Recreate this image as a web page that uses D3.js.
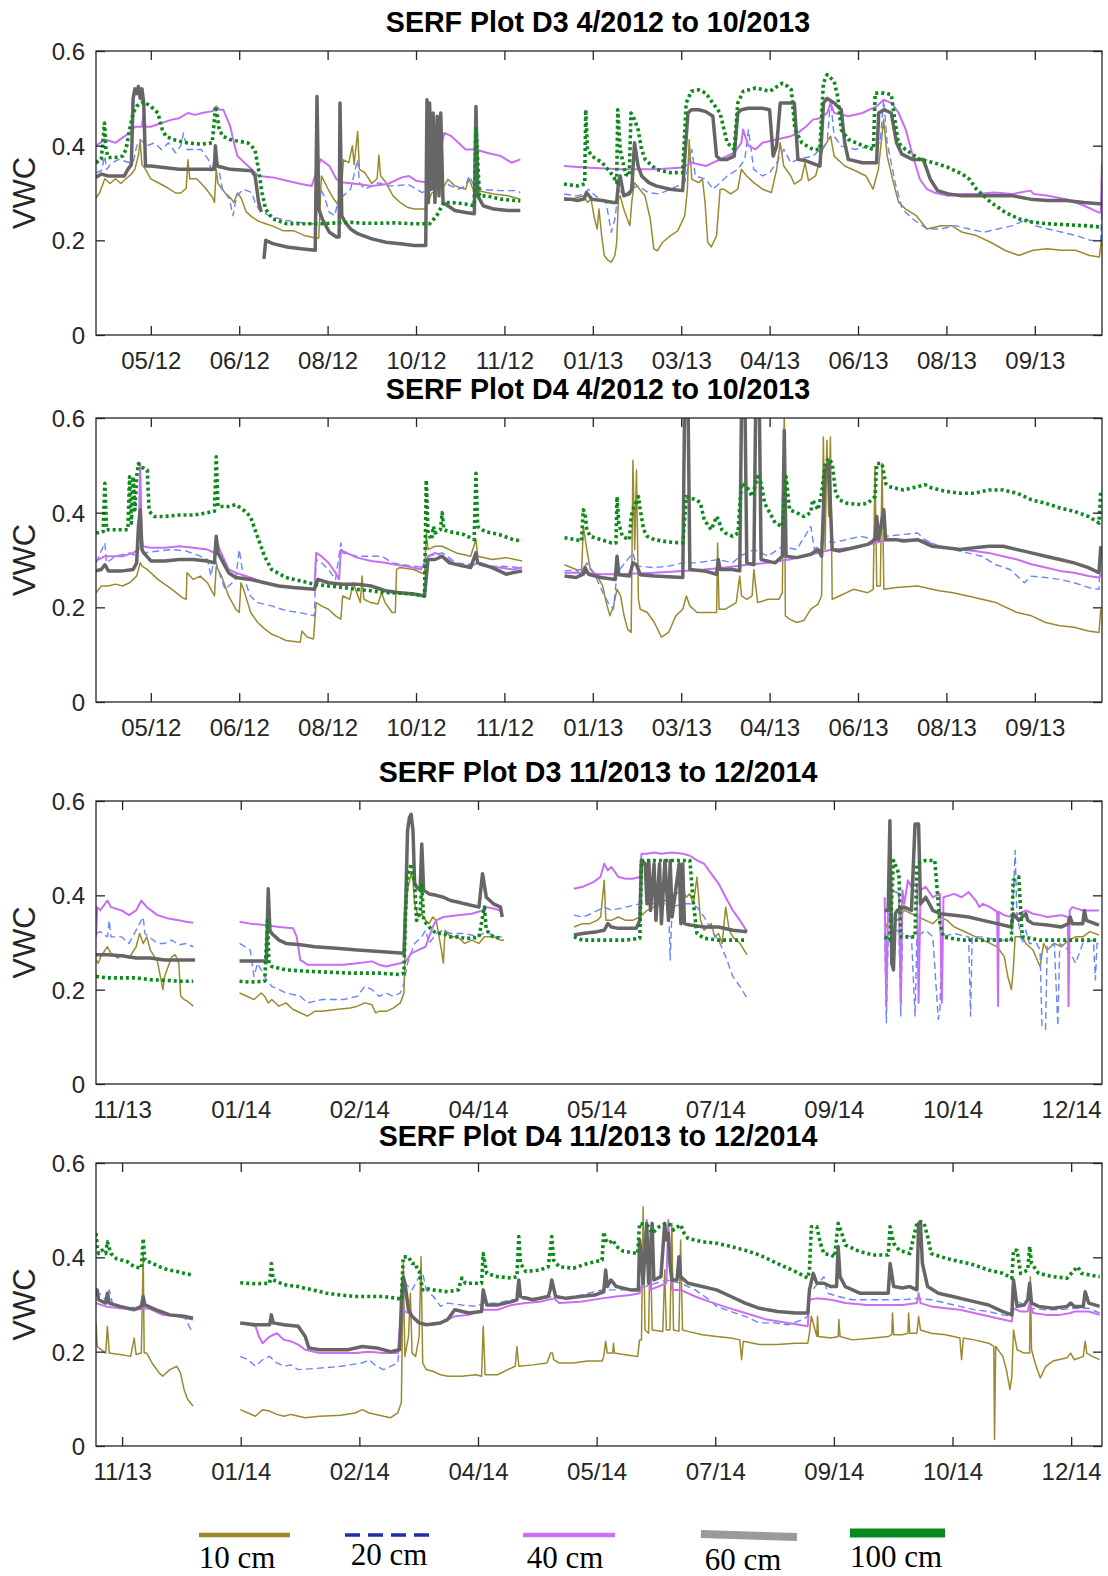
<!DOCTYPE html>
<html>
<head>
<meta charset="utf-8">
<script src="https://cdn.jsdelivr.net/npm/d3@7"></script>
<style>
body { margin: 0; background: #fff; }
svg { display: block; }
</style>
</head>
<body>
<div id="chart"></div>
<script>
// depth labels (legend)
var depths = ["10 cm", "20 cm", "40 cm", "60 cm", "100 cm"];

// titles
var titles = ["SERF Plot D3 4/2012 to 10/2013", "SERF Plot D4 4/2012 to 10/2013",
              "SERF Plot D3 11/2013 to 12/2014", "SERF Plot D4 11/2013 to 12/2014"];

// x tick dates (labelled mm/yy)
var ticks2012 = ["2012-05-11","2012-06-30","2012-08-19","2012-10-08","2012-11-27","2013-01-16",
                 "2013-03-07","2013-04-26","2013-06-15","2013-08-04","2013-09-23"];
var ticks2013 = ["2013-11-12","2014-01-01","2014-02-20","2014-04-11","2014-05-31","2014-07-20",
                 "2014-09-08","2014-10-28","2014-12-17"];
var yTicks = [0, 0.2, 0.4, 0.6];

// data: [days since start of plot period, VWC]; null = gap in record
// period 1 starts 2012-04-10, period 2 starts 2013-11-01
var d3a_10 = [[0,.29],[2,.30],[5,.33],[8,.32],[11,.33],[14,.32],[17,.33],[20,.34],[22,.35],[24,.38],[25,.41],[26,.36],[28,.35],[31,.33],[36,.32],[41,.31],[45,.30],[48,.30],[51,.31],[52,.37],[53,.33],[57,.33],[62,.31],[66,.29],[67,.28],[68,.35],[69,.32],[73,.30],[76,.29],[78,.28],[80,.30],[82,.29],[85,.26],[88,.25],[92,.24],[96,.235],[100,.23],[106,.22],[112,.22],[118,.21],[124,.205],[126,.205],[127.5,.336],[131,.31],[134,.29],[136,.28],[138,.27],[140,.37],[143,.364],[145,.40],[146,.36],[148,.43],[149,.35],[152,.343],[156,.32],[159,.33],[160,.38],[161,.336],[164,.322],[168,.294],[172,.28],[176,.27],[180,.266],[186,.266],[190,.30],[194,.31],[197,.315],[199,.329],[203,.315],[209,.308],[211,.33],[213,.31],[217,.304],[225,.298],[233,.294],[240,.287],
  null,
  [264.7,.29],[268,.287],[272,.29],[276,.294],[278,.28],[280,.287],[282,.245],[283.5,.224],[284.5,.266],[286,.21],[287.5,.168],[289.5,.158],[291.5,.154],[293.5,.168],[294.5,.196],[295.5,.287],[296.5,.294],[298.5,.266],[300.5,.245],[302,.231],[303,.28],[304.5,.322],[307.5,.308],[310.5,.294],[313.5,.245],[315.5,.182],[317.5,.178],[320.5,.196],[325,.21],[329,.22],[333,.252],[334.5,.308],[335.5,.413],[337,.329],[341,.322],[343,.329],[344.5,.28],[346,.196],[348,.186],[351,.21],[353,.308],[355,.308],[359,.298],[363,.308],[365,.35],[368,.336],[372,.322],[377,.308],[382,.301],[385,.35],[387,.406],[389,.357],[393,.336],[395,.319],[399,.329],[401,.364],[403,.326],[407,.336],[411,.392],[415.5,.42],[417.5,.378],[423.5,.357],[429.5,.347],[435.5,.336],[439.5,.308],[442.5,.35],[445.5,.455],[447.5,.378],[451,.322],[454,.28],[458,.266],[464,.252],[470,.224],[478,.231],[484,.231],[490,.217],[498,.21],[506,.196],[514,.179],[522,.168],[530,.179],[538,.182],[546,.179],[554,.179],[562,.168],[567.5,.165],[569,.21]];
var d3a_20 = [[0,.343],[3,.347],[5,.378],[6,.35],[9,.364],[13,.371],[19,.364],[21,.364],[23,.399],[25,.413],[27,.406],[29,.40],[33,.406],[37,.392],[41,.406],[45,.385],[48,.40],[49.5,.427],[51.5,.392],[55.5,.392],[59.5,.392],[63.5,.371],[65.5,.343],[67.5,.392],[68.5,.371],[71.5,.308],[75.5,.287],[77.5,.252],[79.5,.294],[83.5,.308],[88,.301],[90,.28],[92,.266],[96,.256],[100,.249],[108,.242],[120,.235],[124,.235],[127,.308],[129,.294],[132,.259],[135,.252],[138,.30],[140,.294],[144,.308],[148,.371],[149,.322],[152,.308],[156,.315],[160,.322],[164.5,.315],[168.5,.315],[176.5,.318],[184.5,.301],[196.5,.322],[205,.308],[209,.315],[211,.336],[215,.308],[229,.305],[237,.305],[240,.301],
  null,
  [264.7,.298],[272,.294],[276.5,.298],[278.5,.308],[282.5,.294],[288.5,.28],[291.5,.217],[293.5,.245],[295.5,.308],[298.5,.294],[302.5,.308],[306.5,.315],[312.5,.301],[318.5,.298],[325,.308],[333,.322],[337,.392],[339,.336],[345,.329],[349,.308],[353,.322],[357,.336],[363,.35],[367,.371],[369,.434],[372,.35],[377,.336],[381,.343],[385,.364],[389,.392],[393,.364],[397,.371],[405.5,.378],[413.5,.406],[415.5,.497],[417.5,.42],[421.5,.399],[429.5,.392],[437.5,.399],[443.5,.406],[445.5,.497],[447.5,.406],[452,.322],[456,.266],[462,.245],[470,.224],[478,.224],[486,.231],[494,.224],[502,.217],[510,.224],[518.5,.231],[526.5,.245],[530.5,.231],[538.5,.224],[546.5,.217],[554.5,.21],[562.5,.20],[568.3,.20],[569,.28]];
var d3a_40 = [[0,.40],[5,.413],[11,.406],[15,.417],[19,.427],[22,.44],[26,.44],[27,.476],[28,.44],[31,.44],[37,.448],[43,.455],[47,.458],[52,.469],[56,.465],[60,.469],[66,.473],[68,.483],[70,.476],[72,.476],[76,.44],[78,.406],[80,.378],[84,.364],[88,.35],[92,.336],[100,.333],[108,.326],[116,.319],[122,.315],[127,.371],[132,.357],[136,.329],[140,.322],[148,.319],[156,.315],[165,.319],[173,.333],[177,.336],[181,.326],[187,.322],[191,.322],[197,.427],[201,.42],[205,.406],[209,.392],[215,.392],[221,.385],[229,.378],[235,.364],[240,.371],
  null,
  [264.7,.357],[276.5,.354],[296.5,.35],[316.5,.35],[332,.354],[337,.364],[345,.357],[353,.371],[361,.385],[365,.406],[366,.434],[369,.40],[373,.392],[377,.406],[385,.413],[393,.42],[397,.427],[401.5,.44],[405.5,.455],[409.5,.458],[413.5,.469],[415.5,.49],[417.5,.469],[425.5,.462],[433.5,.469],[437.5,.476],[441.5,.483],[445.5,.497],[450,.49],[454,.469],[458,.434],[462,.378],[466,.329],[470,.308],[474,.301],[482,.294],[490,.298],[498,.298],[508,.301],[518.5,.298],[528.5,.305],[530.5,.298],[538.5,.294],[548.5,.287],[559,.273],[567,.259],[568.3,.259],[569,.364]];
var d3a_60 = [[0,.333],[3,.34],[7,.336],[13,.336],[16,.336],[18,.35],[20,.36],[21,.50],[22,.52],[23,.51],[24,.525],[25,.50],[26,.52],[27,.49],[28,.357],[31,.357],[47,.35],[63,.35],[67,.35],[67.5,.40],[68.5,.357],[76,.35],[88,.347],[90,.336],[92,.28],[93.5,.26],
  null,
  [95,.161],[96,.20],[100,.193],[108,.186],[116,.182],[124,.179],[125,.504],[126,.266],[128,.245],[132,.217],[136,.207],[137.5,.207],[138,.49],[139,.252],[141,.238],[144,.224],[148,.214],[156,.203],[164,.196],[172,.193],[180,.189],[186.5,.189],[187.2,.497],[188,.28],[188.7,.49],[189.7,.308],[190.7,.469],[191.7,.28],[193,.462],[194,.294],[195,.469],[196.3,.28],[199,.273],[203,.263],[209,.259],[214,.256],[214.9,.483],[216,.294],[219,.273],[225,.266],[233,.263],[240,.263],
  null,
  [264.7,.287],[268.3,.287],[272.3,.284],[276,.287],[277.4,.301],[280.4,.287],[286.4,.284],[292.5,.28],[294.5,.28],[295.5,.322],[296.5,.336],[298.5,.294],[301.6,.298],[303,.308],[304.6,.406],[306.6,.357],[308.6,.336],[312.7,.322],[316.7,.315],[324.8,.308],[331.8,.305],[333.5,.40],[334.8,.469],[336.8,.476],[340.9,.476],[344.9,.472],[348.9,.462],[351,.378],[353,.371],[357,.371],[361,.378],[363,.469],[365,.476],[369,.479],[377,.479],[381,.476],[383,.378],[385,.40],[387,.49],[395,.49],[397,.371],[401.5,.368],[409.5,.357],[411.5,.49],[413.5,.50],[417.5,.49],[421.5,.476],[423.5,.406],[425.5,.371],[433.5,.364],[441.5,.364],[442.7,.469],[445.7,.476],[449.8,.469],[452.8,.406],[455.8,.382],[461.8,.371],[467.9,.371],[471.9,.329],[476,.305],[482,.298],[490,.294],[498,.294],[518.5,.294],[528.5,.287],[538.5,.284],[548.7,.284],[558.8,.28],[569,.277]];
var d3a_100 = [[0,.364],[3,.371],[4.8,.448],[5.6,.392],[7,.375],[11,.375],[15,.378],[17,.392],[19,.434],[21,.469],[23,.483],[25,.49],[27,.493],[31,.483],[35,.469],[37.5,.434],[39.5,.42],[43.5,.413],[51.6,.406],[59.6,.403],[65.7,.406],[67.7,.483],[69.7,.434],[71.7,.42],[75.8,.413],[79.8,.41],[85.8,.406],[89.9,.392],[91.9,.35],[93.9,.301],[95.9,.266],[100,.245],[108,.235],[120,.235],[128,.235],[136,.237],[144,.238],[152,.236],[160,.236],[168,.237],[180,.235],[188.7,.235],[192.7,.252],[196.7,.28],[200.8,.28],[208.8,.277],[213.9,.273],[214.9,.441],[216.9,.294],[220.9,.294],[229,.287],[240,.283],
  null,
  [264.7,.319],[272.3,.315],[276.4,.319],[277,.476],[278,.392],[280.4,.378],[286.4,.364],[292.5,.336],[294.5,.322],[295.1,.476],[296.5,.392],[299.5,.34],[301.6,.336],[302.6,.469],[304.6,.455],[306.6,.434],[308.6,.392],[310.6,.371],[316.7,.35],[324.8,.343],[331.8,.343],[333.8,.49],[336.8,.515],[340.9,.518],[344.9,.511],[348.9,.49],[353,.469],[357,.406],[361,.392],[363,.49],[366.1,.515],[373.1,.522],[381.2,.515],[385.2,.525],[388.2,.532],[391.3,.525],[393.3,.518],[395.3,.434],[399.3,.406],[405.4,.392],[409.4,.392],[411.4,.532],[413.5,.55],[417.5,.536],[419.5,.504],[421.5,.434],[425.6,.413],[433.6,.40],[439.7,.392],[440.7,.511],[445.7,.511],[449.8,.508],[451.8,.455],[453.8,.406],[457.8,.392],[465.9,.371],[473.9,.364],[482,.354],[490,.34],[494,.329],[498,.308],[506.2,.28],[514.3,.259],[522.3,.245],[530.4,.238],[538.5,.235],[548.7,.233],[558.8,.231],[569,.228]];

var d4a_10 = [[0,.231],[3,.245],[7,.245],[11,.249],[15,.245],[19,.252],[23,.266],[25,.294],[26,.287],[29,.28],[35,.259],[43,.238],[49,.22],[51,.217],[51.5,.273],[55,.259],[59,.266],[63,.252],[67,.224],[68,.287],[71,.266],[75,.224],[79,.196],[81,.189],[82,.252],[83.5,.238],[87.5,.189],[91.5,.168],[95.5,.154],[99.5,.143],[103.5,.137],[107.5,.13],[115.5,.126],[116.5,.15],[119.5,.137],[123,.133],[124.5,.21],[127.5,.203],[131.5,.196],[135.5,.182],[138.5,.175],[139.5,.224],[143.5,.217],[145.5,.252],[147.5,.231],[149.5,.21],[150.5,.266],[151.5,.217],[155.5,.21],[159.5,.207],[161.5,.231],[163.5,.21],[167.5,.189],[169.3,.189],[170,.28],[171.7,.284],[179.7,.28],[185.8,.27],[186.8,.357],[187.8,.322],[191.8,.329],[195.8,.329],[203.8,.315],[211.9,.308],[214.9,.343],[215.9,.308],[224,.301],[232,.305],[241,.298],
  null,
  [265,.29],[271.5,.28],[274.6,.266],[275.6,.371],[277.6,.322],[279.6,.28],[283.6,.266],[286.6,.245],[288.6,.21],[290.7,.182],[292.7,.203],[294.7,.238],[296.7,.224],[298.7,.182],[300.7,.154],[302.7,.147],[303.7,.511],[304.7,.322],[305.7,.49],[306.8,.217],[307.8,.196],[311.8,.189],[315.8,.168],[319.8,.137],[323.9,.147],[327.9,.182],[331.9,.196],[333.9,.224],[335.9,.203],[339.9,.189],[351,.189],[351.6,.336],[352.4,.196],[356,.196],[362.1,.21],[364.1,.266],[365.1,.224],[368.1,.217],[371.1,.224],[372.1,.28],[374.2,.21],[380.2,.217],[386.2,.217],[388.2,.231],[389.3,.62],[389.9,.182],[392.3,.175],[396.3,.168],[400.3,.172],[404.3,.196],[408.4,.207],[410.4,.224],[411.4,.56],[412.4,.322],[413.4,.553],[414.4,.392],[415.4,.56],[416.4,.217],[420.4,.224],[428.5,.238],[436.5,.231],[439.6,.238],[440.6,.497],[441.6,.245],[443.6,.245],[444.6,.504],[445.6,.238],[452.6,.242],[464.7,.245],[476.8,.235],[484.8,.231],[496.9,.221],[509,.21],[521,.189],[529.1,.182],[537.1,.168],[545.2,.161],[553.2,.158],[561.3,.15],[567.3,.147],[568.3,.196]];
var d4a_20 = [[0,.294],[5,.336],[6,.294],[11,.308],[19,.315],[23,.308],[26,.35],[27,.315],[35,.319],[43,.322],[51,.319],[59,.308],[63,.301],[65,.266],[67,.308],[69,.28],[73,.238],[79,.259],[81,.322],[83.3,.266],[87.3,.224],[91.3,.21],[99.3,.203],[107.4,.193],[115.4,.189],[123.5,.182],[124.5,.301],[127.5,.294],[131.5,.28],[135.5,.259],[138.5,.336],[139.5,.315],[147.6,.308],[155.6,.308],[161.7,.308],[167.7,.294],[171.7,.291],[179.7,.287],[185.8,.284],[187.8,.308],[195.8,.315],[203.8,.294],[211.9,.291],[219.9,.287],[228,.287],[241,.284],
  null,
  [265,.277],[275.6,.28],[277.6,.294],[281.6,.273],[287.6,.224],[289.7,.21],[292.7,.196],[294.7,.273],[303.7,.315],[305.7,.287],[315.8,.284],[323.9,.287],[331.9,.294],[339.9,.294],[352,.301],[360.1,.294],[364.1,.308],[372.1,.322],[380.2,.308],[388.2,.329],[396.3,.322],[404.3,.371],[406.3,.322],[412.4,.343],[416.4,.336],[424.5,.343],[432.5,.35],[440.6,.343],[444.6,.392],[446.6,.35],[456.7,.354],[464.7,.357],[468.8,.343],[476.8,.329],[484.8,.322],[492.9,.315],[500.9,.308],[509,.29],[517,.28],[525.1,.252],[529.1,.266],[537.1,.263],[545.2,.259],[553.2,.252],[561.3,.242],[567.3,.238],[568.3,.322]];
var d4a_40 = [[0,.298],[5,.308],[7,.308],[15,.308],[21,.315],[24,.322],[25,.504],[26,.329],[31,.326],[39,.326],[47,.329],[55,.326],[63,.322],[67,.315],[68,.343],[70,.322],[75,.28],[79,.273],[87.3,.263],[95.3,.252],[103.4,.245],[115.4,.242],[123.5,.238],[124.5,.315],[127.5,.308],[131.5,.294],[135.5,.273],[137.5,.259],[138.5,.322],[139.5,.319],[147.6,.305],[155.6,.298],[163.7,.294],[169.7,.29],[175.7,.287],[183.8,.28],[186.8,.301],[187.8,.308],[191.8,.315],[195.8,.308],[203.8,.291],[211.9,.287],[215.9,.294],[219.9,.287],[228,.284],[236,.28],[241,.284],
  null,
  [265,.273],[275.6,.273],[285.6,.27],[295.7,.27],[315.8,.273],[331.9,.277],[344,.28],[356,.284],[368.1,.29],[380.2,.294],[392.3,.301],[400.3,.308],[408.4,.315],[416.4,.322],[428.5,.326],[440.6,.336],[448.6,.343],[456.7,.343],[464.7,.343],[468.8,.34],[476.8,.329],[488.8,.322],[496.9,.319],[504.9,.315],[513,.308],[521,.301],[529.1,.291],[537.1,.284],[545.2,.277],[553.2,.273],[561.3,.266],[567.3,.263],[568.5,.27]];
var d4a_60 = [[0,.277],[3,.28],[5,.29],[7,.277],[15,.277],[21,.28],[23,.294],[24,.371],[25,.406],[26,.322],[27,.315],[31,.298],[39,.298],[47,.301],[55,.301],[63,.298],[67,.294],[68,.35],[69,.315],[75,.273],[79,.263],[87.3,.259],[95.3,.252],[103.4,.245],[111.4,.242],[123.5,.238],[125.5,.259],[131.5,.252],[139.5,.249],[147.6,.249],[155.6,.245],[163.7,.235],[171.7,.231],[179.7,.228],[185.8,.224],[187.8,.301],[191.8,.301],[195.8,.308],[199.8,.294],[207.9,.287],[211.9,.284],[214.9,.315],[215.9,.294],[224,.284],[232,.27],[241,.277],
  null,
  [265,.266],[271.5,.263],[275.6,.27],[276.6,.284],[278.6,.27],[285.6,.263],[293.7,.259],[294.7,.308],[295.7,.269],[301.7,.266],[303.7,.294],[305.7,.29],[307.8,.269],[315.8,.266],[331.9,.263],[332.9,.62],[334.9,.62],[335.9,.28],[344,.277],[351,.27],[352,.301],[353,.28],[360.1,.28],[364.1,.277],[365.1,.62],[367.1,.62],[368.1,.294],[372.1,.29],[373.1,.62],[375.2,.62],[376.2,.301],[384.2,.294],[388.2,.308],[389.3,.574],[390.3,.308],[396.3,.305],[404.3,.312],[408.4,.322],[410.4,.308],[412.4,.49],[414.4,.504],[416.4,.322],[420.4,.319],[428.5,.326],[436.5,.333],[440.6,.343],[441.6,.392],[442.6,.343],[445.6,.406],[446.6,.343],[452.6,.343],[456.7,.34],[464.7,.343],[468.8,.336],[472.8,.329],[480.8,.326],[488.8,.322],[496.9,.326],[504.9,.329],[513,.329],[521,.322],[529.1,.315],[537.1,.308],[545.2,.301],[553.2,.294],[561.3,.284],[567.3,.273],[568.3,.329]];
var d4a_100 = [[0,.357],[4,.36],[5,.462],[6,.364],[11,.364],[18,.364],[19,.476],[20,.378],[21,.476],[22,.406],[23,.476],[24,.504],[25,.497],[27,.494],[29,.49],[30,.406],[31,.399],[33,.392],[39,.392],[47,.395],[55,.395],[63,.40],[67,.403],[68,.518],[69,.413],[75,.413],[79,.417],[83.3,.406],[87.3,.392],[91.3,.35],[95.3,.308],[99.3,.28],[107.4,.263],[115.4,.256],[123.5,.249],[131.5,.245],[139.5,.242],[147.6,.238],[155.6,.235],[163.7,.231],[171.7,.23],[179.7,.228],[185.8,.224],[186.8,.469],[187.8,.357],[189.8,.343],[190.8,.371],[191.8,.357],[194.8,.364],[195.8,.40],[196.8,.364],[199.8,.36],[207.9,.354],[213.9,.343],[214.9,.483],[215.9,.371],[219.9,.36],[228,.354],[236,.343],[241,.34],
  null,
  [265,.347],[271.5,.343],[274.6,.34],[275.6,.406],[276.6,.399],[277.6,.364],[279.6,.35],[285.6,.343],[291.7,.336],[294.1,.336],[294.7,.434],[295.7,.378],[297.7,.35],[301.7,.343],[302.7,.392],[303.7,.406],[306.8,.434],[307.8,.406],[309.8,.364],[311.8,.35],[315.8,.343],[323.9,.338],[331.9,.336],[333.9,.434],[335.9,.431],[339.9,.427],[341.9,.42],[344,.385],[348,.364],[351,.392],[352,.385],[354,.364],[356,.357],[360.1,.35],[363.1,.357],[364.1,.413],[365.1,.462],[368.1,.455],[371.1,.434],[374.2,.476],[376.2,.462],[378.2,.42],[380.2,.406],[384.2,.378],[388.2,.371],[390.3,.476],[392.3,.406],[396.3,.40],[400.3,.392],[404.3,.40],[405.3,.427],[408.4,.406],[410.4,.441],[412.4,.504],[414.4,.515],[416.4,.504],[418.4,.441],[420.4,.427],[424.5,.42],[432.5,.417],[436.5,.42],[440.6,.434],[441.6,.504],[444.6,.504],[446.6,.462],[448.6,.455],[456.7,.448],[464.7,.455],[468.8,.459],[472.8,.452],[480.8,.445],[488.8,.441],[496.9,.441],[504.9,.448],[513,.448],[521,.441],[529.1,.427],[537.1,.42],[545.2,.41],[553.2,.403],[561.3,.392],[567.3,.378],[568.3,.448]];

var d3b_10 = [[0,.263],[1,.256],[2,.27],[4.8,.291],[6.3,.277],[9.3,.267],[10.8,.274],[13.9,.267],[16.9,.291],[18.4,.319],[19.9,.298],[21.4,.312],[22.9,.284],[25.9,.26],[28.2,.2],[28.9,.228],[31.9,.27],[33.4,.274],[34.9,.256],[35.7,.186],[37.2,.179],[38.7,.175],[41,.165],
  null,
  [60.5,.193],[63.6,.186],[66.6,.179],[69.6,.193],[71.1,.186],[72.6,.172],[74.1,.179],[77.1,.165],[80.1,.172],[83.1,.158],[86.1,.151],[89.1,.144],[92.2,.154],[95.2,.154],[101.2,.158],[107.2,.161],[110.2,.165],[113.3,.172],[116.3,.168],[117.8,.151],[119.3,.154],[122.3,.154],[125.3,.161],[128.3,.172],[129.8,.193],[130.6,.354],[131.3,.411],[132.8,.446],[133.6,.432],[134.3,.382],[135.8,.354],[137.3,.361],[138.9,.347],[140.4,.34],[141.9,.354],[143.4,.347],[145.6,.284],[146.4,.256],[147.1,.326],[149.4,.312],[152.4,.312],[155.4,.298],[158.4,.305],[161.4,.298],[163.7,.312],[167.5,.312],[170.5,.305],[172,.305],
  null,
  [201.4,.333],[205.1,.34],[208.1,.34],[211.2,.347],[212.7,.354],[214.2,.432],[214.9,.347],[217.2,.347],[220.2,.354],[223.2,.347],[226.2,.347],[229.2,.354],[232.2,.368],[235.2,.375],[238.3,.382],[241.3,.396],[244.3,.403],[247.3,.411],[248.8,.396],[250.3,.403],[251.8,.382],[253.3,.439],[254.8,.347],[256.3,.326],[259.3,.34],[260.8,.312],[262.4,.319],[263.9,.298],[265.4,.375],[266.9,.326],[268.4,.312],[271.4,.298],[274.4,.274],
  null,
  [332.4,.326],[334.6,.354],[337.7,.347],[340.7,.368],[343.7,.361],[346.7,.354],[349.7,.347],[352.7,.34],[355.7,.354],[358.7,.347],[361.7,.333],[364.8,.326],[367.8,.319],[370.8,.312],[373.8,.305],[376.8,.298],[379.8,.291],[382.8,.27],[384.3,.228],[385.8,.2],[386.6,.242],[387.4,.312],[390.4,.312],[391.9,.298],[394.9,.284],[397.9,.249],[399.4,.298],[400.9,.284],[403.9,.298],[406.9,.291],[409.9,.305],[412.9,.312],[415.9,.312],[418.9,.323],[422.7,.316]];
var d3b_20 = [[0,.319],[1.8,.323],[4.8,.312],[5.6,.347],[6.3,.312],[10.8,.312],[13.9,.298],[16.9,.326],[19.9,.354],[20.6,.319],[25.9,.298],[28.9,.298],[31.9,.305],[34.9,.295],[37.9,.298],[41,.291],
  null,
  [60.5,.298],[65,.284],[66.6,.228],[68.1,.256],[71.8,.221],[74.1,.207],[80.1,.193],[86.1,.186],[89.1,.172],[95.2,.179],[104.2,.179],[110.2,.186],[113.3,.207],[116.3,.2],[119.3,.186],[122.3,.193],[125.3,.186],[128.3,.193],[129.8,.214],[131.3,.256],[134.3,.298],[137.3,.312],[138.9,.326],[140.4,.298],[143.4,.319],[146.4,.326],[149.4,.319],[155.4,.319],[161.4,.312],[164.5,.326],[167.5,.312],[170.5,.312],[172,.312],
  null,
  [201.4,.358],[205.1,.354],[208.6,.361],[214.2,.375],[217.2,.368],[223.2,.375],[229.2,.382],[235.2,.382],[241.3,.382],[242,.263],[242.8,.375],[247.3,.382],[250.3,.382],[253.3,.375],[256.3,.354],[259.3,.326],[262.4,.305],[265.4,.27],[268.4,.228],[271.4,.207],[274.4,.182],
  null,
  [332.4,.319],[333.1,.13],[333.9,.319],[338.4,.326],[339.2,.144],[339.9,.319],[343.7,.312],[345.2,.144],[346,.312],[349.7,.326],[352.7,.312],[355,.137],[355.7,.158],[356.5,.312],[361.7,.319],[367.8,.312],[368.6,.144],[369.3,.312],[373.8,.312],[379.8,.305],[385.8,.305],[387.4,.495],[388.1,.361],[390.4,.298],[391.9,.326],[393.4,.298],[396.4,.298],[397.9,.284],[398.7,.123],[400.2,.116],[400.9,.291],[403.9,.298],[405.4,.123],[406.2,.298],[409.9,.284],[412.9,.256],[415.9,.298],[420.4,.305],[421.2,.221],[421.9,.298],[422.7,.298]];
var d3b_40 = [[0,.312],[0.5,.375],[1.8,.368],[4.8,.389],[6.3,.375],[10.8,.368],[13.9,.358],[16.9,.368],[19.1,.389],[21.4,.375],[25.9,.358],[30.4,.351],[34.9,.347],[37.9,.344],[41,.342],
  null,
  [60.5,.344],[65,.34],[71.1,.337],[77.1,.333],[83.1,.33],[84.6,.312],[86.1,.263],[89.1,.253],[95.2,.253],[104.2,.253],[110.2,.256],[116.3,.26],[119.3,.253],[122.3,.249],[125.3,.253],[128.3,.256],[130.6,.26],[132.8,.277],[135.8,.284],[138.9,.291],[140.4,.312],[141.9,.333],[143.4,.347],[146.4,.354],[152.4,.358],[158.4,.361],[162.9,.368],[164.5,.375],[167.5,.372],[170.5,.368],
  null,
  [201.4,.414],[205.1,.418],[209.6,.428],[212.6,.439],[214.2,.467],[215.7,.453],[217.2,.46],[220.2,.439],[223.2,.435],[226.2,.435],[229.2,.439],[229.9,.488],[232.2,.488],[235.2,.491],[238.3,.488],[242.8,.491],[247.3,.488],[250.3,.484],[253.3,.474],[256.3,.467],[259.3,.446],[262.4,.425],[265.4,.396],[268.4,.368],[271.4,.347],[274.4,.323],
  null,
  [332.4,.396],[333.1,.165],[333.9,.396],[335.4,.411],[338.4,.404],[339.2,.172],[339.9,.411],[340.7,.382],[342.2,.432],[343.7,.418],[346,.425],[346.7,.172],[347.5,.411],[349.7,.418],[352.7,.396],[355.7,.403],[356.5,.172],[357.2,.396],[361.7,.403],[364.8,.396],[367.8,.407],[370.8,.389],[372.3,.375],[373.8,.382],[376.8,.375],[379.8,.365],[380.2,.165],[380.5,.365],[382.8,.358],[385.8,.354],[388.9,.361],[391.9,.368],[394.9,.361],[397.9,.358],[400.9,.354],[406.9,.358],[409.6,.354],[409.9,.165],[410.4,.368],[411.5,.375],[415.9,.368],[422.7,.368]];
var d3b_60 = [[0,.274],[4.8,.274],[10.8,.272],[16.9,.267],[22.9,.267],[28.9,.263],[34.9,.263],[41.7,.263],
  null,
  [60.5,.261],[65,.261],[71.8,.261],[72.6,.414],[73.3,.326],[74.1,.319],[77.1,.305],[80.1,.298],[86.1,.295],[92.2,.291],[101.2,.288],[110.2,.284],[119.3,.281],[125.3,.279],[129.8,.277],[130.6,.396],[131.3,.537],[132.1,.565],[132.8,.572],[133.6,.537],[134.3,.425],[135.1,.418],[136.6,.411],[137.3,.509],[138.1,.411],[140.4,.403],[143.4,.40],[146.4,.396],[149.4,.389],[152.4,.386],[155.4,.382],[161.4,.375],[162.9,.446],[164.5,.396],[167.5,.382],[170.5,.375],[171.2,.354],
  null,
  [201.4,.316],[205.1,.319],[211.2,.323],[214.2,.326],[215.7,.34],[217.2,.333],[220.2,.33],[227.7,.33],[229.2,.347],[229.9,.474],[231.5,.467],[232.2,.382],[233,.474],[233.7,.368],[235.2,.467],[236,.347],[237.5,.467],[238.3,.34],[239.8,.474],[241.3,.347],[242,.474],[242.8,.354],[245.8,.467],[246.5,.34],[247.3,.467],[248,.34],[250.3,.337],[256.3,.333],[262.4,.333],[268.4,.326],[274.4,.323],
  null,
  [332.4,.368],[333.9,.368],[334.6,.558],[335.4,.256],[336.1,.242],[336.9,.361],[337.7,.368],[340.7,.375],[343.7,.368],[345.2,.551],[346.7,.551],[347.5,.382],[349.7,.396],[352.7,.368],[355.7,.361],[361.7,.358],[367.8,.354],[373.8,.347],[379.8,.34],[385.8,.333],[386.6,.361],[388.9,.347],[391.9,.361],[392.7,.347],[394.9,.34],[400.9,.337],[406.9,.333],[409.9,.34],[410.6,.354],[411.5,.34],[415.9,.34],[416.6,.368],[417.4,.347],[422.7,.337]];
var d3b_100 = [[0,.228],[4.8,.225],[16.9,.225],[22.9,.221],[28.9,.22],[34.9,.218],[41,.218],
  null,
  [60.5,.218],[65,.216],[71.1,.218],[72.3,.347],[72.9,.256],[74.1,.249],[80.1,.242],[89.1,.239],[98.2,.237],[107.2,.235],[119.3,.235],[128.3,.232],[129.8,.235],[130.6,.382],[131.3,.439],[132.8,.467],[134.3,.425],[135.1,.347],[136.6,.361],[137.3,.425],[138.1,.347],[140.4,.333],[143.4,.319],[146.4,.319],[149.4,.312],[152.4,.312],[155.4,.309],[158.4,.309],[161.4,.312],[163.7,.375],[164.5,.326],[167.5,.312],[170.5,.309],
  null,
  [201.4,.312],[205.1,.305],[211.2,.305],[217.2,.305],[223.2,.305],[229.2,.309],[229.9,.474],[232.2,.474],[241.3,.474],[247.3,.474],[250.3,.474],[251.8,.382],[253.3,.319],[256.3,.309],[262.4,.305],[268.4,.305],[274.4,.305],
  null,
  [332.4,.312],[334.6,.305],[336.1,.474],[338.4,.446],[339.2,.312],[345.2,.312],[346,.467],[349.7,.474],[353.5,.474],[355.7,.34],[357.2,.312],[364.8,.305],[373.8,.305],[385.8,.305],[386.6,.432],[388.9,.439],[390.4,.312],[397.9,.305],[409.9,.305],[422.7,.305]];

var d4b_10 = [[0,.261],[0.5,.211],[4.1,.197],[4.8,.254],[5.6,.197],[10.1,.194],[14.6,.19],[16.1,.229],[16.9,.194],[19.1,.197],[19.9,.408],[20.3,.197],[21.4,.197],[23.6,.176],[26.6,.155],[28.1,.148],[31.1,.162],[34.1,.169],[35.6,.155],[37.1,.12],[38.6,.099],[40.9,.085],
  null,
  [60.8,.077],[64.1,.07],[67.2,.063],[70.2,.077],[73.2,.074],[76.2,.067],[79.2,.063],[82.2,.067],[88.2,.06],[94.2,.063],[103.2,.065],[109.2,.07],[112.2,.077],[115.2,.07],[121.2,.063],[124.2,.06],[127.2,.07],[128.7,.092],[129.5,.387],[130.2,.19],[131.7,.232],[132.5,.324],[133.2,.197],[134.7,.19],[136.2,.232],[137,.401],[137.7,.176],[139.2,.162],[142.2,.158],[145.2,.151],[148.2,.148],[154.2,.148],[160.2,.151],[162.5,.148],[163.2,.254],[164,.151],[169.2,.151],[173.6,.162],[176.7,.169],[177.4,.211],[178.2,.169],[184.1,.172],[190.1,.176],[191.6,.197],[192.4,.197],[192.9,.183],[195.2,.176],[201.2,.176],[207.2,.18],[213.3,.18],[214,.19],[214.8,.222],[215.5,.197],[217.8,.197],[218.1,.218],[218.5,.197],[222.3,.194],[228.3,.19],[229.1,.225],[229.9,.225],[230.6,.507],[231.4,.246],[232.9,.239],[233.6,.451],[234.4,.246],[238.9,.243],[239.7,.373],[240.4,.246],[241.9,.246],[242.7,.472],[243.4,.246],[245.7,.243],[246.4,.437],[247.2,.246],[249.5,.243],[255.5,.236],[261.5,.232],[267.6,.229],[271.3,.225],[272.1,.183],[272.8,.222],[279.6,.215],[287.2,.215],[294.7,.218],[300,.218],[300.7,.239],[301.5,.275],[303.8,.232],[304.1,.275],[304.5,.232],[309.8,.229],[312.8,.232],[313.1,.268],[313.6,.232],[318.8,.225],[327.9,.229],[333.9,.232],[335.4,.236],[335.7,.282],[336.2,.236],[339.9,.236],[342.2,.239],[342.5,.282],[343,.239],[346,.239],[346.7,.275],[347.5,.246],[352,.239],[358.1,.236],[364.1,.229],[364.8,.183],[365.6,.229],[370.1,.225],[376.2,.218],[378.4,.211],[378.7,.014],[379.2,.211],[382.2,.19],[383.7,.162],[385.2,.12],[386,.148],[386.7,.246],[388.2,.204],[391.2,.197],[393.5,.197],[393.8,.359],[394.3,.204],[395.8,.176],[398,.144],[400.3,.169],[403.3,.18],[409.3,.187],[410.8,.197],[412.3,.183],[416.1,.19],[416.9,.222],[417.6,.197],[419.9,.19],[423,.183]];
var d4b_20 = [[0,.331],[4.1,.31],[5.6,.331],[7.1,.299],[13.1,.292],[19.1,.296],[25.1,.289],[31.1,.278],[37.1,.275],[40.1,.246],
  null,
  [60.8,.19],[64.1,.183],[67.2,.169],[70.2,.183],[73.2,.19],[76.2,.176],[79.2,.169],[82.2,.172],[85.2,.162],[94.2,.165],[103.2,.169],[112.2,.176],[115.2,.183],[118.2,.169],[121.2,.162],[124.2,.169],[127.2,.176],[130.2,.345],[133.2,.331],[136.2,.359],[137.7,.366],[139.2,.331],[142.2,.317],[145.2,.296],[148.2,.303],[154.2,.299],[160.2,.296],[163.2,.303],[169.2,.303],[175.2,.31],[184.1,.313],[193.1,.317],[195.2,.313],[204.2,.32],[210.2,.327],[213.3,.331],[219.3,.331],[225.3,.331],[231.4,.338],[240.4,.352],[246.4,.345],[252.5,.331],[258.5,.31],[261.5,.296],[267.6,.285],[273.6,.275],[279.6,.261],[285.7,.261],[291.7,.257],[297.7,.268],[300,.275],[300.7,.324],[306.8,.359],[308.3,.324],[312.8,.317],[318.8,.31],[324.9,.31],[333.9,.31],[339.9,.31],[346,.313],[352,.31],[358.1,.303],[364.1,.296],[370.1,.289],[376.2,.285],[382.2,.278],[386,.275],[386.7,.31],[394.3,.292],[400.3,.289],[406.3,.289],[412.3,.292],[418.4,.292],[423,.282]];
var d4b_40 = [[0,.303],[4.1,.296],[10.1,.292],[16.1,.289],[22.1,.292],[28.1,.278],[34.1,.275],[40.9,.268],
  null,
  [60.8,.261],[67.2,.254],[68.7,.232],[70.2,.218],[73.2,.232],[76.2,.239],[79.2,.225],[82.2,.222],[85.2,.215],[88.2,.204],[94.2,.197],[109.2,.197],[115.2,.2],[121.2,.197],[127.2,.197],[128.7,.289],[131.7,.282],[136.2,.261],[142.2,.257],[148.2,.268],[151.2,.275],[157.2,.278],[163.2,.289],[169.2,.289],[175.2,.299],[181.1,.303],[187.1,.306],[193.1,.313],[195.2,.303],[204.2,.306],[213.3,.313],[219.3,.317],[225.3,.32],[229.1,.324],[230.6,.352],[232.1,.479],[233.6,.331],[240.4,.345],[241.2,.479],[242.7,.331],[246.4,.331],[252.5,.317],[258.5,.306],[264.5,.296],[273.6,.282],[282.6,.268],[291.7,.261],[300,.254],[300.7,.31],[303.8,.313],[309.8,.31],[315.8,.303],[324.9,.299],[333.9,.299],[339.9,.299],[346,.303],[346.7,.324],[347.5,.303],[352,.296],[358.1,.292],[364.1,.289],[370.1,.282],[376.2,.275],[382.2,.268],[386,.264],[386.7,.292],[389.7,.285],[392.7,.285],[393.5,.303],[395,.282],[400.3,.278],[406.3,.278],[410.8,.282],[412.3,.285],[418.4,.285],[423,.278]];
var d4b_60 = [[0,.317],[0.5,.331],[1.1,.31],[4.1,.303],[4.8,.324],[5.6,.303],[10.1,.296],[16.1,.289],[19.1,.296],[19.9,.317],[20.6,.299],[25.1,.289],[31.1,.278],[37.1,.275],[40.9,.271],
  null,
  [60.8,.261],[67.2,.257],[73.2,.257],[73.9,.278],[74.7,.261],[79.2,.257],[85.2,.254],[88.2,.232],[89.7,.208],[94.2,.204],[106.2,.204],[112.2,.211],[118.2,.208],[124.2,.2],[128,.204],[128.7,.303],[129.5,.359],[130.2,.345],[131.7,.289],[133.2,.275],[136.2,.261],[139.2,.257],[145.2,.261],[148.2,.268],[151.2,.289],[157.2,.282],[162.5,.285],[163.2,.331],[164.7,.299],[169.2,.299],[175.2,.306],[177.4,.31],[178.2,.352],[178.9,.317],[184.1,.31],[190.6,.317],[191.4,.331],[192.1,.352],[193.7,.317],[198.2,.313],[204.2,.317],[210.2,.32],[214,.327],[214.8,.373],[215.5,.338],[217,.352],[219.3,.338],[225.3,.331],[228.6,.331],[229.1,.437],[229.9,.401],[230.6,.345],[232.1,.472],[232.9,.345],[234.4,.472],[235.1,.352],[238.1,.359],[239.7,.472],[240.4,.437],[241.2,.451],[241.9,.387],[242.7,.352],[244.9,.352],[245.7,.401],[246.4,.359],[249.5,.345],[255.5,.338],[261.5,.331],[267.6,.317],[273.6,.303],[279.6,.292],[287.2,.285],[294.7,.282],[300,.282],[300.7,.331],[302.3,.366],[303.8,.345],[306.8,.345],[309.8,.338],[312.1,.338],[312.8,.423],[313.6,.359],[315.8,.338],[321.9,.324],[327.9,.324],[333.9,.324],[334.7,.387],[336.2,.338],[339.9,.335],[343,.338],[346,.331],[346.7,.472],[347.5,.472],[348.3,.387],[350.5,.338],[355,.324],[361.1,.317],[370.1,.306],[376.2,.299],[382.2,.285],[386,.278],[386.7,.352],[388.2,.296],[391.2,.299],[392.7,.31],[393.5,.345],[394.3,.303],[397.3,.296],[403.3,.292],[409.3,.296],[410.8,.303],[412.3,.296],[416.1,.296],[416.9,.327],[418.4,.303],[423,.296]];
var d4b_100 = [[0,.451],[0.5,.423],[1.1,.408],[2.6,.415],[4.1,.408],[4.8,.433],[6.3,.408],[8.6,.397],[13.1,.391],[16.1,.38],[19.1,.377],[19.9,.44],[20.6,.394],[22.1,.391],[25.1,.384],[28.1,.377],[31.1,.373],[34.1,.37],[37.1,.366],[40.1,.363],
  null,
  [60.8,.346],[67.2,.344],[73.2,.345],[73.9,.387],[74.7,.352],[79.2,.342],[85.2,.338],[91.2,.331],[97.2,.324],[103.2,.32],[109.2,.317],[115.2,.317],[121.2,.317],[127.2,.313],[128.7,.31],[129.5,.401],[131.7,.401],[133.2,.387],[134.7,.387],[135.5,.373],[136.2,.37],[137.7,.331],[139.2,.334],[142.2,.331],[148.2,.327],[152.7,.331],[154.2,.356],[155.7,.345],[160.2,.345],[162.5,.345],[163.2,.408],[164.7,.366],[169.2,.359],[175.2,.356],[177.4,.359],[178.2,.444],[178.9,.387],[181.1,.37],[187.1,.373],[190.6,.38],[192.1,.444],[192.9,.394],[195.2,.38],[201.2,.377],[207.2,.387],[213.3,.394],[214,.454],[214.8,.437],[216.3,.43],[217.8,.437],[219.3,.423],[222.3,.413],[228.3,.408],[229.1,.472],[231.4,.469],[232.9,.465],[234.4,.451],[237.4,.465],[240.4,.472],[241.9,.469],[243.4,.458],[246.4,.469],[247.9,.451],[249.5,.44],[255.5,.433],[261.5,.43],[267.6,.423],[273.6,.415],[279.6,.405],[287.2,.387],[294.7,.37],[300,.356],[300.7,.373],[301.5,.465],[303.8,.465],[305.3,.43],[306.8,.408],[309.8,.405],[311.3,.401],[312.8,.472],[314.3,.451],[315.8,.426],[321.9,.412],[327.9,.405],[333.9,.405],[334.7,.465],[336.2,.43],[338.5,.415],[343,.408],[346,.472],[347.5,.476],[349,.472],[350.5,.444],[352,.408],[358.1,.398],[364.1,.391],[370.1,.384],[376.2,.373],[382.2,.366],[386,.356],[386.7,.415],[388.2,.415],[389.7,.366],[392.7,.373],[393.5,.423],[394.3,.387],[397.3,.366],[403.3,.359],[409.3,.356],[412.3,.373],[413.8,.38],[415.3,.366],[418.4,.363],[423,.359]];

var width = 1108, height = 1576;
var left = 96, right = 1102;
var parseDay = d3.timeParse("%Y-%m-%d");
var fmt = d3.timeFormat("%m/%y");
var start1 = parseDay("2012-04-10"), start2 = parseDay("2013-11-01");

var panels = [
  {title: titles[0], top: 51, bottom: 335, start: start1, span: 569, ticks: ticks2012, series: [d3a_10, d3a_20, d3a_40, d3a_60, d3a_100]},
  {title: titles[1], top: 418, bottom: 702, start: start1, span: 569, ticks: ticks2012, series: [d4a_10, d4a_20, d4a_40, d4a_60, d4a_100]},
  {title: titles[2], top: 801, bottom: 1084, start: start2, span: 424, ticks: ticks2013, series: [d3b_10, d3b_20, d3b_40, d3b_60, d3b_100]},
  {title: titles[3], top: 1163, bottom: 1446, start: start2, span: 424, ticks: ticks2013, series: [d4b_10, d4b_20, d4b_40, d4b_60, d4b_100]}
];

// line styles for 10, 20, 40, 60, 100 cm
var styles = [
  {color: "#9a8a2f", w: 1.5, dash: null},
  {color: "#6a84ff", w: 1.4, dash: "7,4"},
  {color: "#c86ef5", w: 2, dash: null},
  {color: "#666666", w: 3.5, dash: null},
  {color: "#0e8a1c", w: 3.6, dash: "3,3"}
];

var svg = d3.select("#chart").append("svg")
  .attr("width", width)
  .attr("height", height)
  .style("font-family", "Arial, 'Liberation Sans', Helvetica, sans-serif");

// the third panel's date labels are partly hidden behind the fourth panel's title band
svg.append("clipPath").attr("id", "labelclip")
  .append("rect").attr("x", 0).attr("y", 0).attr("width", width).attr("height", 1115);

panels.forEach(function(p, i) {
  var x = d3.scaleTime()
    .domain([p.start, d3.timeDay.offset(p.start, p.span)])
    .range([left, right]);
  var y = d3.scaleLinear().domain([0, 0.6]).range([p.bottom, p.top]);
  var toDate = function(d) { return new Date(+p.start + d * 864e5); };
  var tickDates = p.ticks.map(parseDay);

  var g = svg.append("g");

  svg.append("clipPath").attr("id", "clip" + i)
    .append("rect")
    .attr("x", left).attr("y", p.top)
    .attr("width", right - left).attr("height", p.bottom - p.top);

  var line = d3.line()
    .defined(function(d) { return d !== null; })
    .x(function(d) { return x(toDate(d[0])); })
    .y(function(d) { return y(d[1]); });

  var plot = g.append("g").attr("clip-path", "url(#clip" + i + ")");
  p.series.forEach(function(s, k) {
    plot.append("path")
      .datum(s)
      .attr("d", line)
      .attr("fill", "none")
      .attr("stroke", styles[k].color)
      .attr("stroke-width", styles[k].w)
      .attr("stroke-dasharray", styles[k].dash)
      .attr("stroke-linejoin", "round");
  });

  // axes, ticks pointing inward
  var bottomAxis = g.append("g")
    .attr("transform", "translate(0," + p.bottom + ")")
    .call(d3.axisBottom(x).tickValues(tickDates).tickFormat(fmt).tickSizeInner(-9).tickSizeOuter(0).tickPadding(17));
  if (i === 2) bottomAxis.attr("clip-path", "url(#labelclip)");
  g.append("g")
    .attr("transform", "translate(0," + p.top + ")")
    .call(d3.axisTop(x).tickValues(tickDates).tickFormat("").tickSizeInner(-9).tickSizeOuter(0));
  var leftAxis = g.append("g")
    .attr("transform", "translate(" + left + ",0)")
    .call(d3.axisLeft(y).tickValues(yTicks).tickFormat(d3.format("~g")).tickSizeInner(-9).tickSizeOuter(0).tickPadding(11));
  g.append("g")
    .attr("transform", "translate(" + right + ",0)")
    .call(d3.axisRight(y).tickValues(yTicks).tickFormat("").tickSizeInner(-9).tickSizeOuter(0));

  g.selectAll(".domain").remove();
  g.selectAll(".tick line").attr("stroke", "#262626").attr("stroke-width", 1.3);
  g.selectAll(".tick text")
    .attr("fill", "#262626")
    .style("font-size", "24px")
    .style("font-family", "Arial, 'Liberation Sans', Helvetica, sans-serif");
  leftAxis.selectAll(".tick text").attr("dy", "0.36em");

  g.append("rect")
    .attr("x", left).attr("y", p.top)
    .attr("width", right - left).attr("height", p.bottom - p.top)
    .attr("fill", "none")
    .attr("stroke", "#262626")
    .attr("stroke-width", 1.3);

  g.append("text")
    .attr("x", 598)
    .attr("y", p.top - (i === 3 ? 17 : 19))
    .attr("text-anchor", "middle")
    .style("font-size", "28.6px")
    .style("font-weight", "bold")
    .attr("fill", "#000")
    .text(p.title);

  g.append("text")
    .attr("transform", "translate(35," + (p.top + p.bottom) / 2 + ") rotate(-90)")
    .attr("text-anchor", "middle")
    .style("font-size", "31px")
    .attr("fill", "#262626")
    .text("VWC");
});

// legend below the panels
var legendX = [199, 345, 523, 701, 850];
var legendW = [91, 84, 92, 96, 95];
var legendStyle = [
  {color: "#9b8a2e", w: 4.5, dash: null, dy: 0},
  {color: "#1c2fa8", w: 3.5, dash: "15,8", dy: 0},
  {color: "#cc70fa", w: 4.5, dash: null, dy: 0},
  {color: "#9a9a9a", w: 8, dash: null, dy: -1},
  {color: "#058a1e", w: 9, dash: null, dy: -2}
];
var labelX = [237, 389, 565, 743, 896];
var labelY = [1568, 1565, 1568, 1570, 1567];

var legend = svg.append("g");
depths.forEach(function(name, k) {
  legend.append("line")
    .attr("x1", legendX[k]).attr("x2", legendX[k] + legendW[k])
    .attr("y1", 1535 + legendStyle[k].dy).attr("y2", 1535 + legendStyle[k].dy + (k === 3 ? 3 : 0))
    .attr("stroke", legendStyle[k].color)
    .attr("stroke-width", legendStyle[k].w)
    .attr("stroke-dasharray", legendStyle[k].dash);
  legend.append("text")
    .attr("x", labelX[k]).attr("y", labelY[k])
    .attr("text-anchor", "middle")
    .style("font-family", "'Liberation Serif', 'Times New Roman', serif")
    .style("font-size", "31px")
    .attr("fill", "#000")
    .text(name);
});
</script>
</body>
</html>
